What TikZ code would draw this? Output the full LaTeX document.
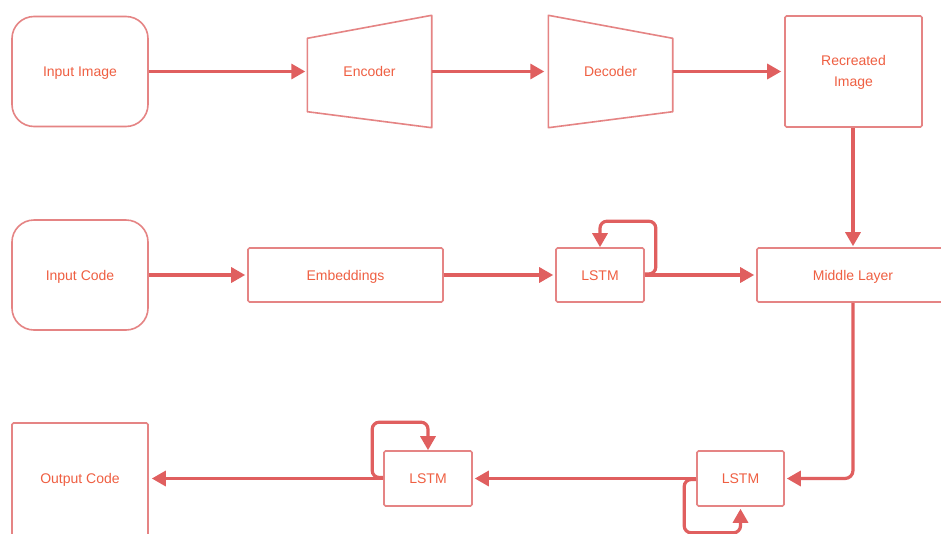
\documentclass[tikz,border=0pt]{standalone}
\usepackage{fontspec}
\setmainfont{Liberation Sans}
\usetikzlibrary{arrows.meta,calc}
\definecolor{boxc}{HTML}{E58484}
\definecolor{arrc}{HTML}{E05F5F}
\definecolor{txtc}{HTML}{EF5F42}
\begin{document}
\begin{tikzpicture}[x=1pt,y=-1pt,
  every node/.style={font=\fontsize{14}{21}\selectfont, text=txtc, align=center, inner sep=0pt, text height=10pt, text depth=0pt},
  rbox/.style={draw=boxc, line width=1.6pt, rounded corners=22pt, minimum width=136pt, minimum height=110pt},
  sbox/.style={draw=boxc, line width=1.6pt, rounded corners=1.5pt},
  arr/.style={draw=arrc, line width=3.2pt, -{Triangle[length=14pt,width=15pt]}},
]
\useasboundingbox (0,0) rectangle (941,533);
\clip (0,0) rectangle (941,533);
\fill[white] (0,0) rectangle (941,533);

% row 1
\node[rbox] (img) at (80,71.5) {Input Image};
\node[minimum width=124pt, minimum height=112pt] (enc) at (369.5,71.5) {Encoder};
\draw[boxc, line width=1.6pt, line join=round]
  ($(enc.north west)+(0,23)$) -- (enc.north east) -- (enc.south east) -- ($(enc.south west)+(0,-16)$) -- cycle;
\node[minimum width=124pt, minimum height=112pt] (dec) at (610.5,71.5) {Decoder};
\draw[boxc, line width=1.6pt, line join=round]
  (dec.north west) -- ($(dec.north east)+(0,23)$) -- ($(dec.south east)+(0,-16)$) -- (dec.south west) -- cycle;
\node[sbox, minimum width=137pt, minimum height=111pt] (rec) at (853.5,71.5) {};
\node[text height=, text depth=] (rect) at (853.5,72) {Recreated\\Image};

\draw[arr] (img.east) -- ($(enc.west)+(-2,0)$);
\draw[arr] (enc.east) -- ($(dec.west)+(-4,0)$);
\draw[arr] (dec.east) -- ($(dec.east -| rec.west)+(-3,0)$);

% row 2
\node[rbox] (code) at (80,275) {Input Code};
\node[sbox, minimum width=195pt, minimum height=54pt] (emb) at (345.5,275) {Embeddings};
\node[sbox, minimum width=88pt, minimum height=54pt] (l1) at (600,275) {LSTM};
\node[sbox, minimum width=192pt, minimum height=54pt] (mid) at (853,275) {Middle Layer};

\draw[arr] (code.east) -- ($(emb.west)+(-2,0)$);
\draw[arr] (emb.east) -- ($(l1.west)+(-2,0)$);
\draw[arr] (l1.east) -- ($(mid.west)+(-2,0)$);
\draw[arr, rounded corners=7pt] ($(l1.east)+(0,-1)$) -- ++(11,0) |- ($(l1.north)+(0,-26)$) -- (l1.north);
\draw[arr] (rec.south -| mid.north) -- ($(mid.north)+(0,-1)$);

% row 3
\node[sbox, minimum width=136pt, minimum height=116pt] (out) at (80,481) {};
\node (outt) at (80,478.5) {Output Code};
\node[sbox, minimum width=88pt, minimum height=55pt] (l2) at (428,478.5) {LSTM};
\node[sbox, minimum width=87pt, minimum height=55pt] (l3) at (740.5,478.5) {LSTM};

\draw[arr, rounded corners=8pt] (mid.south) |- ($(l3.east)+(2,0)$);
\draw[arr] (l3.west) -- ($(l2.east)+(2,0)$);
\draw[arr] (l2.west) -- ($(outt -| out.east)+(3,0)$);
\draw[arr, rounded corners=7pt] ($(l3.west)+(0,1)$) -- ++(-12,0) |- ($(l3.south)+(0,26)$) -- ($(l3.south)+(0,2)$);
\draw[arr, rounded corners=7pt] ($(l2.west)+(0,-1)$) -- ++(-11,0) |- ($(l2.north)+(0,-28)$) -- (l2.north);
\end{tikzpicture}
\end{document}
